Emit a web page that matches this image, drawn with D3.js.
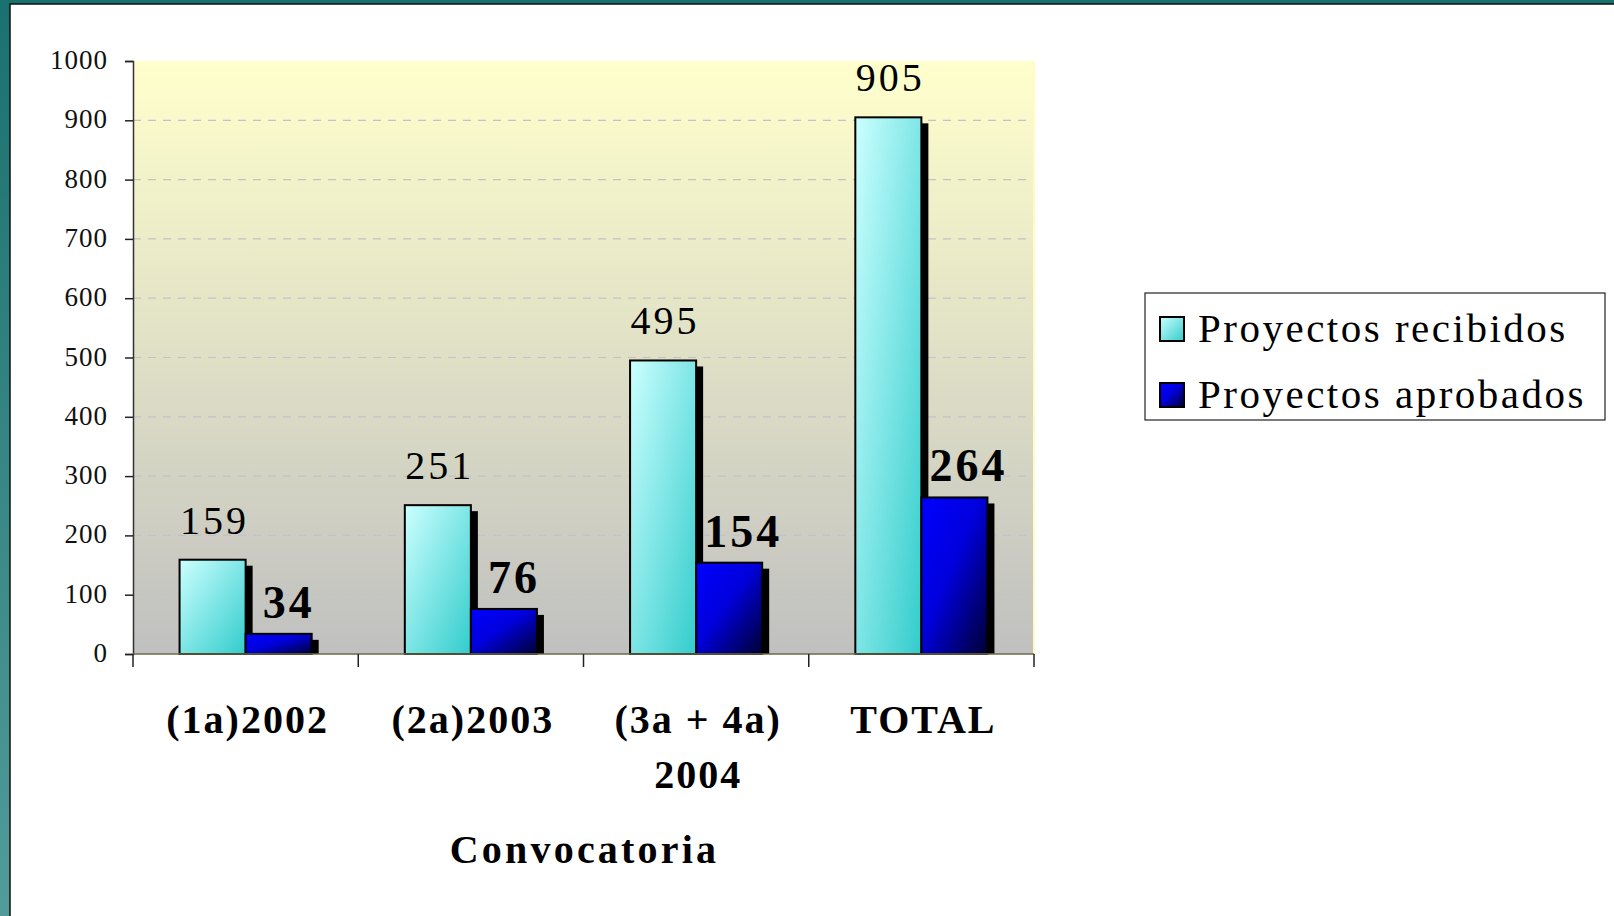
<!DOCTYPE html>
<html>
<head>
<meta charset="utf-8">
<script src="https://cdn.jsdelivr.net/npm/d3@7"></script>
<style>
  html, body { margin: 0; padding: 0; background: #fff; overflow: hidden; }
  svg, svg text { font-family: "Times New Roman", Times, "Liberation Serif", Tinos, serif; }
  svg { display: block; }
</style>
</head>
<body>
<svg id="chart" width="1614" height="916"></svg>
<script>
(function () {
    'use strict';

    const WIDTH = 1614;
    const HEIGHT = 916;

    // data
    const categories = [["(1a)2002"], ["(2a)2003"], ["(3a + 4a)", "2004"], ["TOTAL"]];
    const seriesNames = ["Proyectos recibidos", "Proyectos aprobados"];
    const recibidos = [159, 251, 495, 905];
    const aprobados = [34, 76, 154, 264];
    const yTicks = [0, 100, 200, 300, 400, 500, 600, 700, 800, 900, 1000];

    const plot = {left: 133, right: 1034, top: 61, bottom: 654};

    let svg = d3.select("#chart");
    let defs = svg.append("defs");

    // frame
    let frameGrad = defs.append("linearGradient").attr("id", "frame")
        .attr("x1", 0).attr("y1", 0).attr("x2", 0).attr("y2", 1);
    frameGrad.append("stop").attr("offset", "0%").attr("stop-color", "#19716f");
    frameGrad.append("stop").attr("offset", "100%").attr("stop-color", "#529b99");

    let plotGrad = defs.append("linearGradient").attr("id", "plotbg")
        .attr("x1", 0).attr("y1", 0).attr("x2", 0).attr("y2", 1);
    plotGrad.append("stop").attr("offset", "0%").attr("stop-color", "#ffffcc");
    plotGrad.append("stop").attr("offset", "100%").attr("stop-color", "#c0c0c0");

    let cyanGrad = defs.append("linearGradient").attr("id", "cyan")
        .attr("x1", 0).attr("y1", 0).attr("x2", 1).attr("y2", 1);
    cyanGrad.append("stop").attr("offset", "0%").attr("stop-color", "#ccffff");
    cyanGrad.append("stop").attr("offset", "100%").attr("stop-color", "#33cccc");

    let blueGrad = defs.append("linearGradient").attr("id", "blue")
        .attr("x1", 0).attr("y1", 0).attr("x2", 1).attr("y2", 1);
    blueGrad.append("stop").attr("offset", "0%").attr("stop-color", "#0000ff");
    blueGrad.append("stop").attr("offset", "45%").attr("stop-color", "#0000dd");
    blueGrad.append("stop").attr("offset", "100%").attr("stop-color", "#000033");

    const fills = ["url(#cyan)", "url(#blue)"];

    svg.append("rect").attr("width", WIDTH).attr("height", HEIGHT).attr("fill", "url(#frame)");
    svg.append("rect").attr("x", 10).attr("y", 4).attr("width", WIDTH).attr("height", HEIGHT)
        .attr("fill", "#fff").attr("stroke", "#111").attr("stroke-width", 1.5);

    // scales
    let x0 = d3.scaleBand().domain(d3.range(categories.length)).range([plot.left, plot.right]);
    let x1 = d3.scaleBand().domain(d3.range(seriesNames.length))
        .range([0, x0.bandwidth()]).paddingOuter(0.705);
    let y = d3.scaleLinear().domain([0, 1000]).range([plot.bottom, plot.top]);

    svg.append("rect")
        .attr("x", plot.left).attr("y", plot.top)
        .attr("width", plot.right - plot.left).attr("height", plot.bottom - plot.top)
        .attr("fill", "url(#plotbg)");
    svg.append("line")
        .attr("x1", plot.right).attr("x2", plot.right)
        .attr("y1", plot.top).attr("y2", plot.bottom)
        .attr("stroke", "#fdfdc0").attr("stroke-width", 2);

    // grid
    svg.append("g").selectAll("line")
        .data(yTicks.filter(d => d > 0 && d < 1000))
        .join("line")
        .attr("x1", plot.left).attr("x2", plot.right - 2)
        .attr("y1", d => y(d)).attr("y2", d => y(d))
        .attr("stroke", "#c2c2c8").attr("stroke-width", 1.2)
        .attr("stroke-dasharray", "8,7");

    // bars
    let series = [recibidos, aprobados];
    let groups = svg.append("g").selectAll("g")
        .data(categories)
        .join("g")
        .attr("transform", (d, i) => `translate(${x0(i)},0)`);

    groups.each(function (c, i) {
        let g = d3.select(this);
        series.forEach((vals, s) => {
            let bx = x1(s), bw = x1.bandwidth(), by = y(vals[i]);
            // shadow
            g.append("rect")
                .attr("x", bx + 7).attr("y", by + 6)
                .attr("width", bw).attr("height", plot.bottom - by - 6)
                .attr("fill", "#000");
        });
        series.forEach((vals, s) => {
            let bx = x1(s), bw = x1.bandwidth(), by = y(vals[i]);
            g.append("rect")
                .attr("x", bx).attr("y", by)
                .attr("width", bw).attr("height", plot.bottom - by)
                .attr("fill", fills[s]).attr("stroke", "#000").attr("stroke-width", 2);
        });
        // value labels
        g.append("text")
            .attr("x", x1(0) + x1.bandwidth() / 2 + 2).attr("y", y(recibidos[i]) - 26)
            .attr("text-anchor", "middle").attr("font-size", 40).attr("letter-spacing", 3)
            .text(recibidos[i]);
        let big = String(aprobados[i]).length > 2;
        g.append("text")
            .attr("x", x1(1) + x1.bandwidth() / 2 + (big ? 14 : 10)).attr("y", y(aprobados[i]) - 16)
            .attr("text-anchor", "middle").attr("font-size", 46).attr("font-weight", "bold")
            .attr("letter-spacing", 3)
            .text(aprobados[i]);
    });

    // y axis
    let yAxis = d3.axisLeft(y).tickValues(yTicks).tickFormat(d3.format("d"))
        .tickSize(8).tickPadding(17);
    let yg = svg.append("g").attr("transform", `translate(${plot.left},0)`).call(yAxis)
        .attr("font-family", null).attr("font-size", null);
    yg.select(".domain").attr("stroke", "#333").attr("stroke-width", 1.5);
    yg.selectAll(".tick line").attr("stroke", "#222").attr("stroke-width", 1.5);
    yg.selectAll(".tick text")
        .attr("font-size", 27)
        .attr("letter-spacing", 1).attr("fill", "#111").attr("dy", "0.28em");

    // x axis line and ticks
    let xg = svg.append("g");
    xg.append("line")
        .attr("x1", plot.left).attr("x2", plot.right)
        .attr("y1", plot.bottom).attr("y2", plot.bottom)
        .attr("stroke", "#6e6a4a").attr("stroke-width", 1.5);
    xg.selectAll("line.tk")
        .data(d3.range(categories.length + 1))
        .join("line").attr("class", "tk")
        .attr("x1", i => plot.left + i * x0.bandwidth()).attr("x2", i => plot.left + i * x0.bandwidth())
        .attr("y1", plot.bottom).attr("y2", plot.bottom + 13)
        .attr("stroke", "#222").attr("stroke-width", 1.5);

    xg.selectAll("text.cat")
        .data(categories)
        .join("text").attr("class", "cat")
        .attr("text-anchor", "middle").attr("font-size", 40).attr("font-weight", "bold")
        .attr("letter-spacing", 2)
        .each(function (lines, i) {
            let t = d3.select(this);
            lines.forEach((ln, k) => {
                t.append("tspan")
                    .attr("x", x0(i) + x0.bandwidth() / 2 + 2)
                    .attr("y", 733 + k * 55)
                    .text(ln);
            });
        });

    svg.append("text")
        .attr("x", (plot.left + plot.right) / 2 + 1).attr("y", 863)
        .attr("text-anchor", "middle").attr("font-size", 40).attr("font-weight", "bold")
        .attr("letter-spacing", 3.2)
        .text("Convocatoria");

    // legend
    let legend = svg.append("g");
    legend.append("rect")
        .attr("x", 1145).attr("y", 293).attr("width", 460).attr("height", 127)
        .attr("fill", "#fff").attr("stroke", "#222").attr("stroke-width", 1.2);
    let items = legend.selectAll("g.item")
        .data(seriesNames)
        .join("g").attr("class", "item")
        .attr("transform", (d, i) => `translate(1160,${317 + i * 66})`);
    items.append("rect")
        .attr("width", 24).attr("height", 24)
        .attr("fill", (d, i) => fills[i]).attr("stroke", "#000").attr("stroke-width", 2);
    items.append("text")
        .attr("x", 38).attr("y", 24.5)
        .attr("font-size", 41).attr("letter-spacing", 2.5)
        .text(d => d);
})();
</script>
</body>
</html>
